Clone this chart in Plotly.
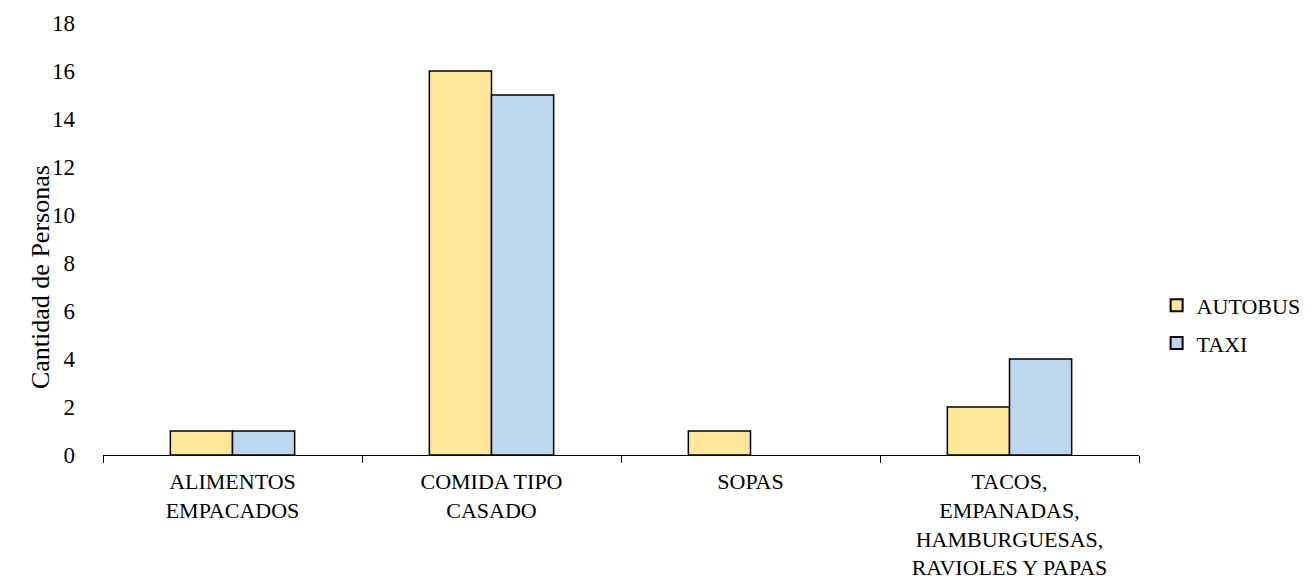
import plotly.graph_objects as go

categories = ["ALIMENTOS<br>EMPACADOS", "COMIDA TIPO<br>CASADO", "SOPAS",
              "TACOS,<br>EMPANADAS,<br>HAMBURGUESAS,<br>RAVIOLES Y PAPAS"]
autobus = [1, 16, 1, 2]
taxi = [1, 15, 0, 4]
y_title = "Cantidad de Personas"

font = "Liberation Serif"
fig = go.Figure()
fig.add_trace(go.Bar(x=categories, y=autobus, name="AUTOBUS", legendgroup="a",
                     marker=dict(color="#FFE699",
                                 line=dict(color="black", width=[1.5 if v else 0 for v in autobus]))))
fig.add_trace(go.Bar(x=categories, y=taxi, name="TAXI", legendgroup="b",
                     marker=dict(color="#BDD7EE",
                                 line=dict(color="black", width=[1.5 if v else 0 for v in taxi]))))

fig.update_layout(
    width=1314, height=588,
    margin=dict(l=103, r=175, t=23, b=133, autoexpand=False),
    plot_bgcolor="white", paper_bgcolor="white",
    font=dict(family=font, size=22, color="black"),
    barmode="group", bargap=0.52, bargroupgap=0,
    legend=dict(x=1.017, y=0.302, xanchor="left", yanchor="middle",
                font=dict(family=font, size=22), tracegroupgap=6, itemsizing="constant",
                itemwidth=30),
    xaxis=dict(showline=True, linecolor="black", linewidth=1,
               ticks="outside", tickson="boundaries", ticklen=7, tickcolor="black",
               tickfont=dict(family=font, size=22), ticklabelstandoff=7),
    yaxis=dict(range=[0, 18], dtick=2, showgrid=False, zeroline=False, showline=False,
               tickfont=dict(family=font, size=23), ticks="", ticklabelstandoff=27),
    annotations=[dict(text=y_title, textangle=-90, xref="paper", yref="paper",
                      x=-0.0608, y=0.412, xanchor="center", yanchor="middle",
                      showarrow=False, font=dict(family=font, size=26))],
)
fig.write_html("out.html")
